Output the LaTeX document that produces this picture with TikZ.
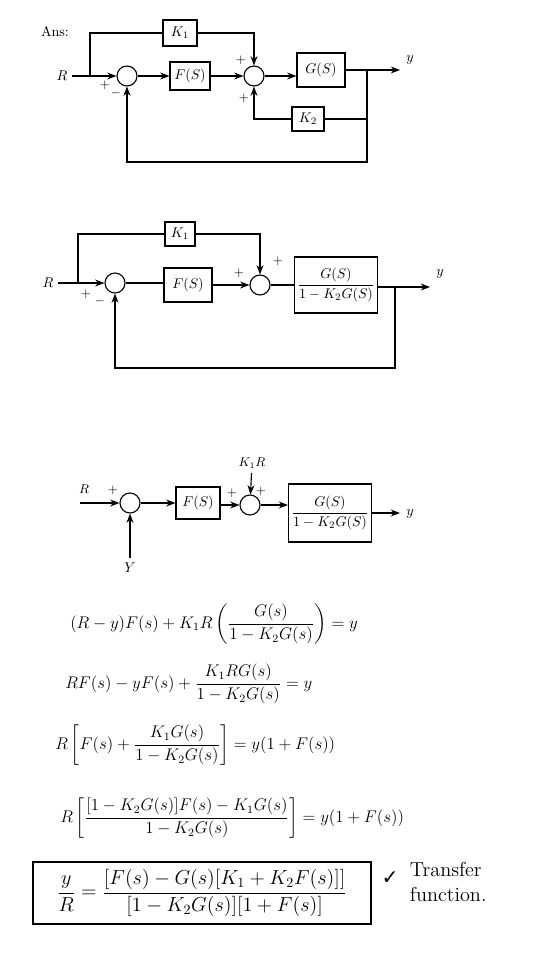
\documentclass[tikz,border=0pt]{standalone}
\usepackage{amsmath}
\usepackage{fontspec}
\newfontfamily\tickfont{DejaVu Sans}
\usetikzlibrary{arrows.meta}

\begin{document}
\begin{tikzpicture}[x=0.25mm,y=-0.25mm,>=Stealth,
block/.style={draw=black, thick, inner sep=2pt},
sumnode/.style={circle, draw=black, thick, minimum size=5mm, inner sep=0pt},
sign/.style={font=\small, inner sep=0pt},
eqn/.style={anchor=west, font=\large, inner sep=0pt}
]
        \useasboundingbox (0,0) rectangle (560,953);

        % first diagram
        \node (ans) at (55,32) {Ans:};
        \node (r1) at (62,76) {$R$};
        \node [sumnode] (s1a) at (127,76) {};
        \node [block,minimum width=8.5mm,minimum height=6.5mm] (k1a) at (180,33) {$K_1$};
        \node [block,minimum width=10mm,minimum height=7mm] (f1) at (190,76) {$F(S)$};
        \node [sumnode] (s2a) at (254,76) {};
        \node [block,minimum width=12mm,minimum height=8.5mm] (g1) at (321,70) {$G(S)$};
        \node [block,minimum width=8mm,minimum height=6mm] (k2a) at (308,119) {$K_2$};
        \coordinate (p1) at (90,76);
        \coordinate (o1) at (367,70);
        \coordinate (e1) at (400,70);
        \coordinate (fb1) at (367,162);
        \node (y1) at (410,60) {$y$};

        \node [sign] (a1) at (105,85) {$+$};
        \node [sign] (a2) at (116,93) {$-$};
        \node [sign] (a3) at (241,60) {$+$};
        \node [sign] (a4) at (244,98) {$+$};

        \draw [thick,->] (r1) -- (s1a);
        \draw [thick] (p1) |- (k1a);
        \draw [thick,->] (k1a) -| (s2a);
        \draw [thick,->] (s1a) -- (f1);
        \draw [thick,->] (f1) -- (s2a);
        \draw [thick,->] (s2a) -- (s2a -| g1.west);
        \draw [thick,->] (g1.east |- o1) -- (e1);
        \draw [thick] (o1) |- (k2a);
        \draw [thick,->] (k2a) -| (s2a);
        \draw [thick,->] (o1) -- (fb1) -| (s1a);

        % second diagram
        \node (r2) at (48,283) {$R$};
        \node [sumnode] (s1b) at (115,283) {};
        \node [block,minimum width=7.5mm,minimum height=6mm] (k1b) at (180,234) {$K_1$};
        \node [block,minimum width=12mm,minimum height=8.5mm] (f2) at (188,285) {$F(S)$};
        \node [sumnode] (s2b) at (260,285) {};
        \node [block,minimum width=20.5mm,minimum height=14mm] (g2) at (336,285) {$\dfrac{G(S)}{1-K_2G(S)}$};
        \coordinate (p2) at (78,283);
        \coordinate (o2) at (395,287);
        \coordinate (e2) at (430,287);
        \coordinate (fb2) at (395,368);
        \node (y2) at (440,274) {$y$};

        \node [sign] (b1) at (86,294) {$+$};
        \node [sign] (b2) at (100,301) {$-$};
        \node [sign] (b3) at (239,273) {$+$};
        \node [sign] (b4) at (278,261) {$+$};

        \draw [thick,->] (r2) -- (s1b);
        \draw [thick] (p2) |- (k1b);
        \draw [thick,->] (k1b) -| (s2b);
        \draw [thick] (s1b) -- (s1b -| f2.west);
        \draw [thick,->] (f2) -- (s2b);
        \draw [thick] (s2b) -- (s2b -| g2.west);
        \draw [thick,->] (g2.east |- o2) -- (e2);
        \draw [thick,->] (o2) -- (fb2) -| (s1b);

        % third diagram
        \node [font=\small] (r3) at (84,489) {$R$};
        \coordinate (i3) at (80,503);
        \node [sumnode] (s1c) at (130,503) {};
        \node [block,minimum width=11mm,minimum height=8mm] (f3) at (198,503) {$F(S)$};
        \node [sumnode] (s2c) at (250,505) {};
        \node [font=\small] (k1r) at (252,463) {$K_1R$};
        \node [block,minimum width=19mm,minimum height=14.5mm] (g3) at (330,513) {$\dfrac{G(S)}{1-K_2G(S)}$};
        \coordinate (e3) at (400,513);
        \node (y3) at (130,568) {$Y$};
        \node (y4) at (410,514) {$y$};

        \node [sign] (c1) at (113,490) {$+$};
        \node [sign] (c2) at (232,493) {$+$};
        \node [sign] (c3) at (261,491) {$+$};

        \draw [thick,->] (i3) -- (s1c);
        \draw [thick,->] (s1c) -- (f3);
        \draw [thick,->] (f3.east |- s2c) -- (s2c);
        \draw [thick,->] (k1r) -- (s2c);
        \draw [thick,->] (s2c) -- (s2c -| g3.west);
        \draw [thick,->] (g3) -- (e3);
        \draw [thick,->] (y3) -- (s1c);

        % working
        \node [eqn] (eq1) at (70,624) {$(R-y)F(s)+K_1R\left(\dfrac{G(s)}{1-K_2G(s)}\right)=y$};
        \node [eqn] (eq2) at (65,684) {$RF(s)-yF(s)+\dfrac{K_1RG(s)}{1-K_2G(s)}=y$};
        \node [eqn] (eq3) at (55,745) {$R\left[F(s)+\dfrac{K_1G(s)}{1-K_2G(s)}\right]=y(1+F(s))$};
        \node [eqn] (eq4) at (60,818) {$R\left[\dfrac{[1-K_2G(s)]F(s)-K_1G(s)}{1-K_2G(s)}\right]=y(1+F(s))$};
        \node [draw=black,thick,font=\Large,inner sep=4pt,minimum width=84.5mm,minimum height=15.5mm] (tf) at (202,893)
            {$\dfrac{y}{R}=\dfrac{[F(s)-G(s)[K_1+K_2F(s)]]}{[1-K_2G(s)][1+F(s)]}$};
        \node [font=\tickfont\Large] (tick) at (390,878) {✓};
        \node [align=left,anchor=west,font=\Large] (note) at (405,882) {Transfer\\function.};

\end{tikzpicture}
\end{document}
